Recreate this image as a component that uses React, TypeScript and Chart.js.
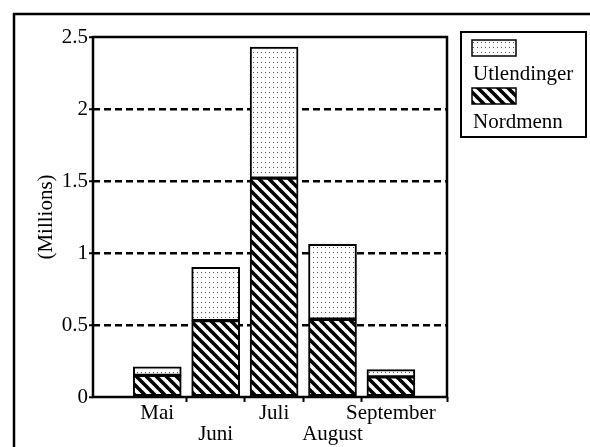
import React, { useEffect, useRef } from "react";
import { Chart, registerables } from "chart.js";

Chart.register(...registerables);

const MONTHS = ["Mai", "Juni", "Juli", "August", "September"];
const NORDMENN = [0.15, 0.53, 1.52, 0.54, 0.14];
const UTLENDINGER = [0.06, 0.37, 0.91, 0.52, 0.05];
const Y_TICKS = [0, 0.5, 1, 1.5, 2, 2.5];
const Y_TITLE = "(Millions)";

const FONT = "'Liberation Serif', 'Times New Roman', serif";
const FS = 21;

function makeHatch(): CanvasPattern | string {
  const c = document.createElement("canvas");
  c.width = 10;
  c.height = 10;
  const g = c.getContext("2d");
  if (!g) return "#000";
  g.fillStyle = "#fff";
  g.fillRect(0, 0, 10, 10);
  g.strokeStyle = "#000";
  g.lineWidth = 3.6;
  for (const o of [-10, 0, 10]) {
    g.beginPath();
    g.moveTo(o - 1, -1);
    g.lineTo(o + 11, 11);
    g.stroke();
  }
  return g.createPattern(c, "repeat") || "#000";
}

function makeDots(): CanvasPattern | string {
  const c = document.createElement("canvas");
  c.width = 4;
  c.height = 5;
  const g = c.getContext("2d");
  if (!g) return "#ddd";
  g.fillStyle = "#fff";
  g.fillRect(0, 0, 4, 5);
  g.fillStyle = "#555";
  g.fillRect(1, 2, 1, 1);
  return g.createPattern(c, "repeat") || "#ddd";
}

export default function App() {
  const ref = useRef<HTMLCanvasElement | null>(null);

  useEffect(() => {
    if (!ref.current) return;
    const hatch = makeHatch();
    const dots = makeDots();

    const framePlugin = {
      id: "frames",
      beforeDraw(chart: any) {
        const ctx = chart.ctx;
        ctx.save();
        ctx.strokeStyle = "#000";
        ctx.lineWidth = 2.5;
        ctx.beginPath();
        ctx.moveTo(14, 470);
        ctx.lineTo(14, 14);
        ctx.lineTo(620, 14);
        ctx.stroke();
        ctx.restore();
      },
      afterDatasetsDraw(chart: any) {
        const { ctx, chartArea: a } = chart;
        ctx.save();
        ctx.strokeStyle = "#000";
        ctx.lineWidth = 2.5;
        ctx.strokeRect(a.left, a.top, a.right - a.left, a.bottom - a.top);
        ctx.restore();
      },
      afterDraw(chart: any) {
        const ctx = chart.ctx;
        const ds = chart.data.datasets.slice().reverse();
        ctx.save();
        ctx.strokeStyle = "#000";
        ctx.lineWidth = 2;
        ctx.strokeRect(461, 32, 125, 105);
        ctx.font = FS + "px " + FONT;
        ctx.fillStyle = "#000";
        ctx.textBaseline = "alphabetic";
        ds.forEach((d: any, i: number) => {
          const y0 = 40 + i * 48;
          ctx.fillStyle = d.backgroundColor;
          ctx.fillRect(472, y0, 44, 16);
          ctx.lineWidth = 1.5;
          ctx.strokeRect(472, y0, 44, 16);
          ctx.fillStyle = "#000";
          ctx.fillText(d.label, 473, y0 + 40);
        });
        ctx.restore();
      },
    };

    const chart = new Chart(ref.current, {
      type: "bar",
      data: {
        datasets: [
          {
            label: "Nordmenn",
            data: NORDMENN.map((v, i) => ({ x: i, y: v })),
            backgroundColor: hatch as any,
            borderColor: "#000",
            borderWidth: 2,
            borderSkipped: false,
            barThickness: 48,
          },
          {
            label: "Utlendinger",
            data: UTLENDINGER.map((v, i) => ({ x: i, y: v })),
            backgroundColor: dots as any,
            borderColor: "#000",
            borderWidth: 2,
            borderSkipped: false,
            barThickness: 48,
          },
        ],
      },
      options: {
        animation: false,
        responsive: true,
        maintainAspectRatio: false,
        layout: { padding: { left: 30, right: 143, top: 37, bottom: 0 } },
        plugins: { legend: { display: false }, tooltip: { enabled: false } },
        scales: {
          x: {
            type: "linear",
            stacked: true,
            offset: false,
            min: -1.1,
            max: 4.96,
            afterBuildTicks: (axis: any) => {
              const t: any[] = [];
              MONTHS.forEach((_, i) => {
                t.push({ value: i });
                if (i < MONTHS.length - 1) t.push({ value: i + 0.5 });
              });
              t.push({ value: 4.96 });
              axis.ticks = t;
            },
            afterFit: (axis: any) => {
              axis.height = 50;
            },
            border: { display: false },
            grid: {
              offset: false,
              drawOnChartArea: false,
              tickLength: 5,
              tickWidth: 2,
              tickColor: (c: any) =>
                c.tick && Number.isInteger(c.tick.value) ? "rgba(0,0,0,0)" : "#000",
            },
            ticks: {
              autoSkip: false,
              maxRotation: 0,
              padding: 1,
              color: "#000",
              font: { family: FONT, size: FS, lineHeight: 1 },
              callback: (v: any) => {
                const n = Number(v);
                if (!Number.isInteger(n) || n < 0 || n >= MONTHS.length) return "";
                return n % 2 === 0 ? [MONTHS[n]] : ["", MONTHS[n]];
              },
            },
          },
          y: {
            stacked: true,
            min: 0,
            max: 2.5,
            afterBuildTicks: (axis: any) => {
              axis.ticks = Y_TICKS.map((v) => ({ value: v }));
            },
            afterFit: (axis: any) => {
              axis.width = 63;
            },
            border: { display: false, dash: [7, 4] },
            grid: {
              color: (c: any) =>
                c.tick && (c.tick.value === 0 || c.tick.value === 2.5)
                  ? "rgba(0,0,0,0)"
                  : "#000",
              lineWidth: 2.5,
              tickLength: 4,
              tickWidth: 2,
              tickColor: "#000",
              tickBorderDash: [],
            } as any,
            ticks: {
              padding: 1,
              color: "#000",
              font: { family: FONT, size: FS },
              callback: (v: any) => String(v),
            },
            title: {
              display: true,
              text: Y_TITLE,
              color: "#000",
              font: { family: FONT, size: FS },
              padding: { top: 4, bottom: 0 },
            },
          },
        },
      } as any,
      plugins: [framePlugin],
    });
    return () => chart.destroy();
  }, []);

  return (
    <div
      style={{
        position: "fixed",
        left: 0,
        top: 0,
        width: 590,
        height: 447,
        background: "#fff",
      }}
    >
      <canvas ref={ref} />
    </div>
  );
}
